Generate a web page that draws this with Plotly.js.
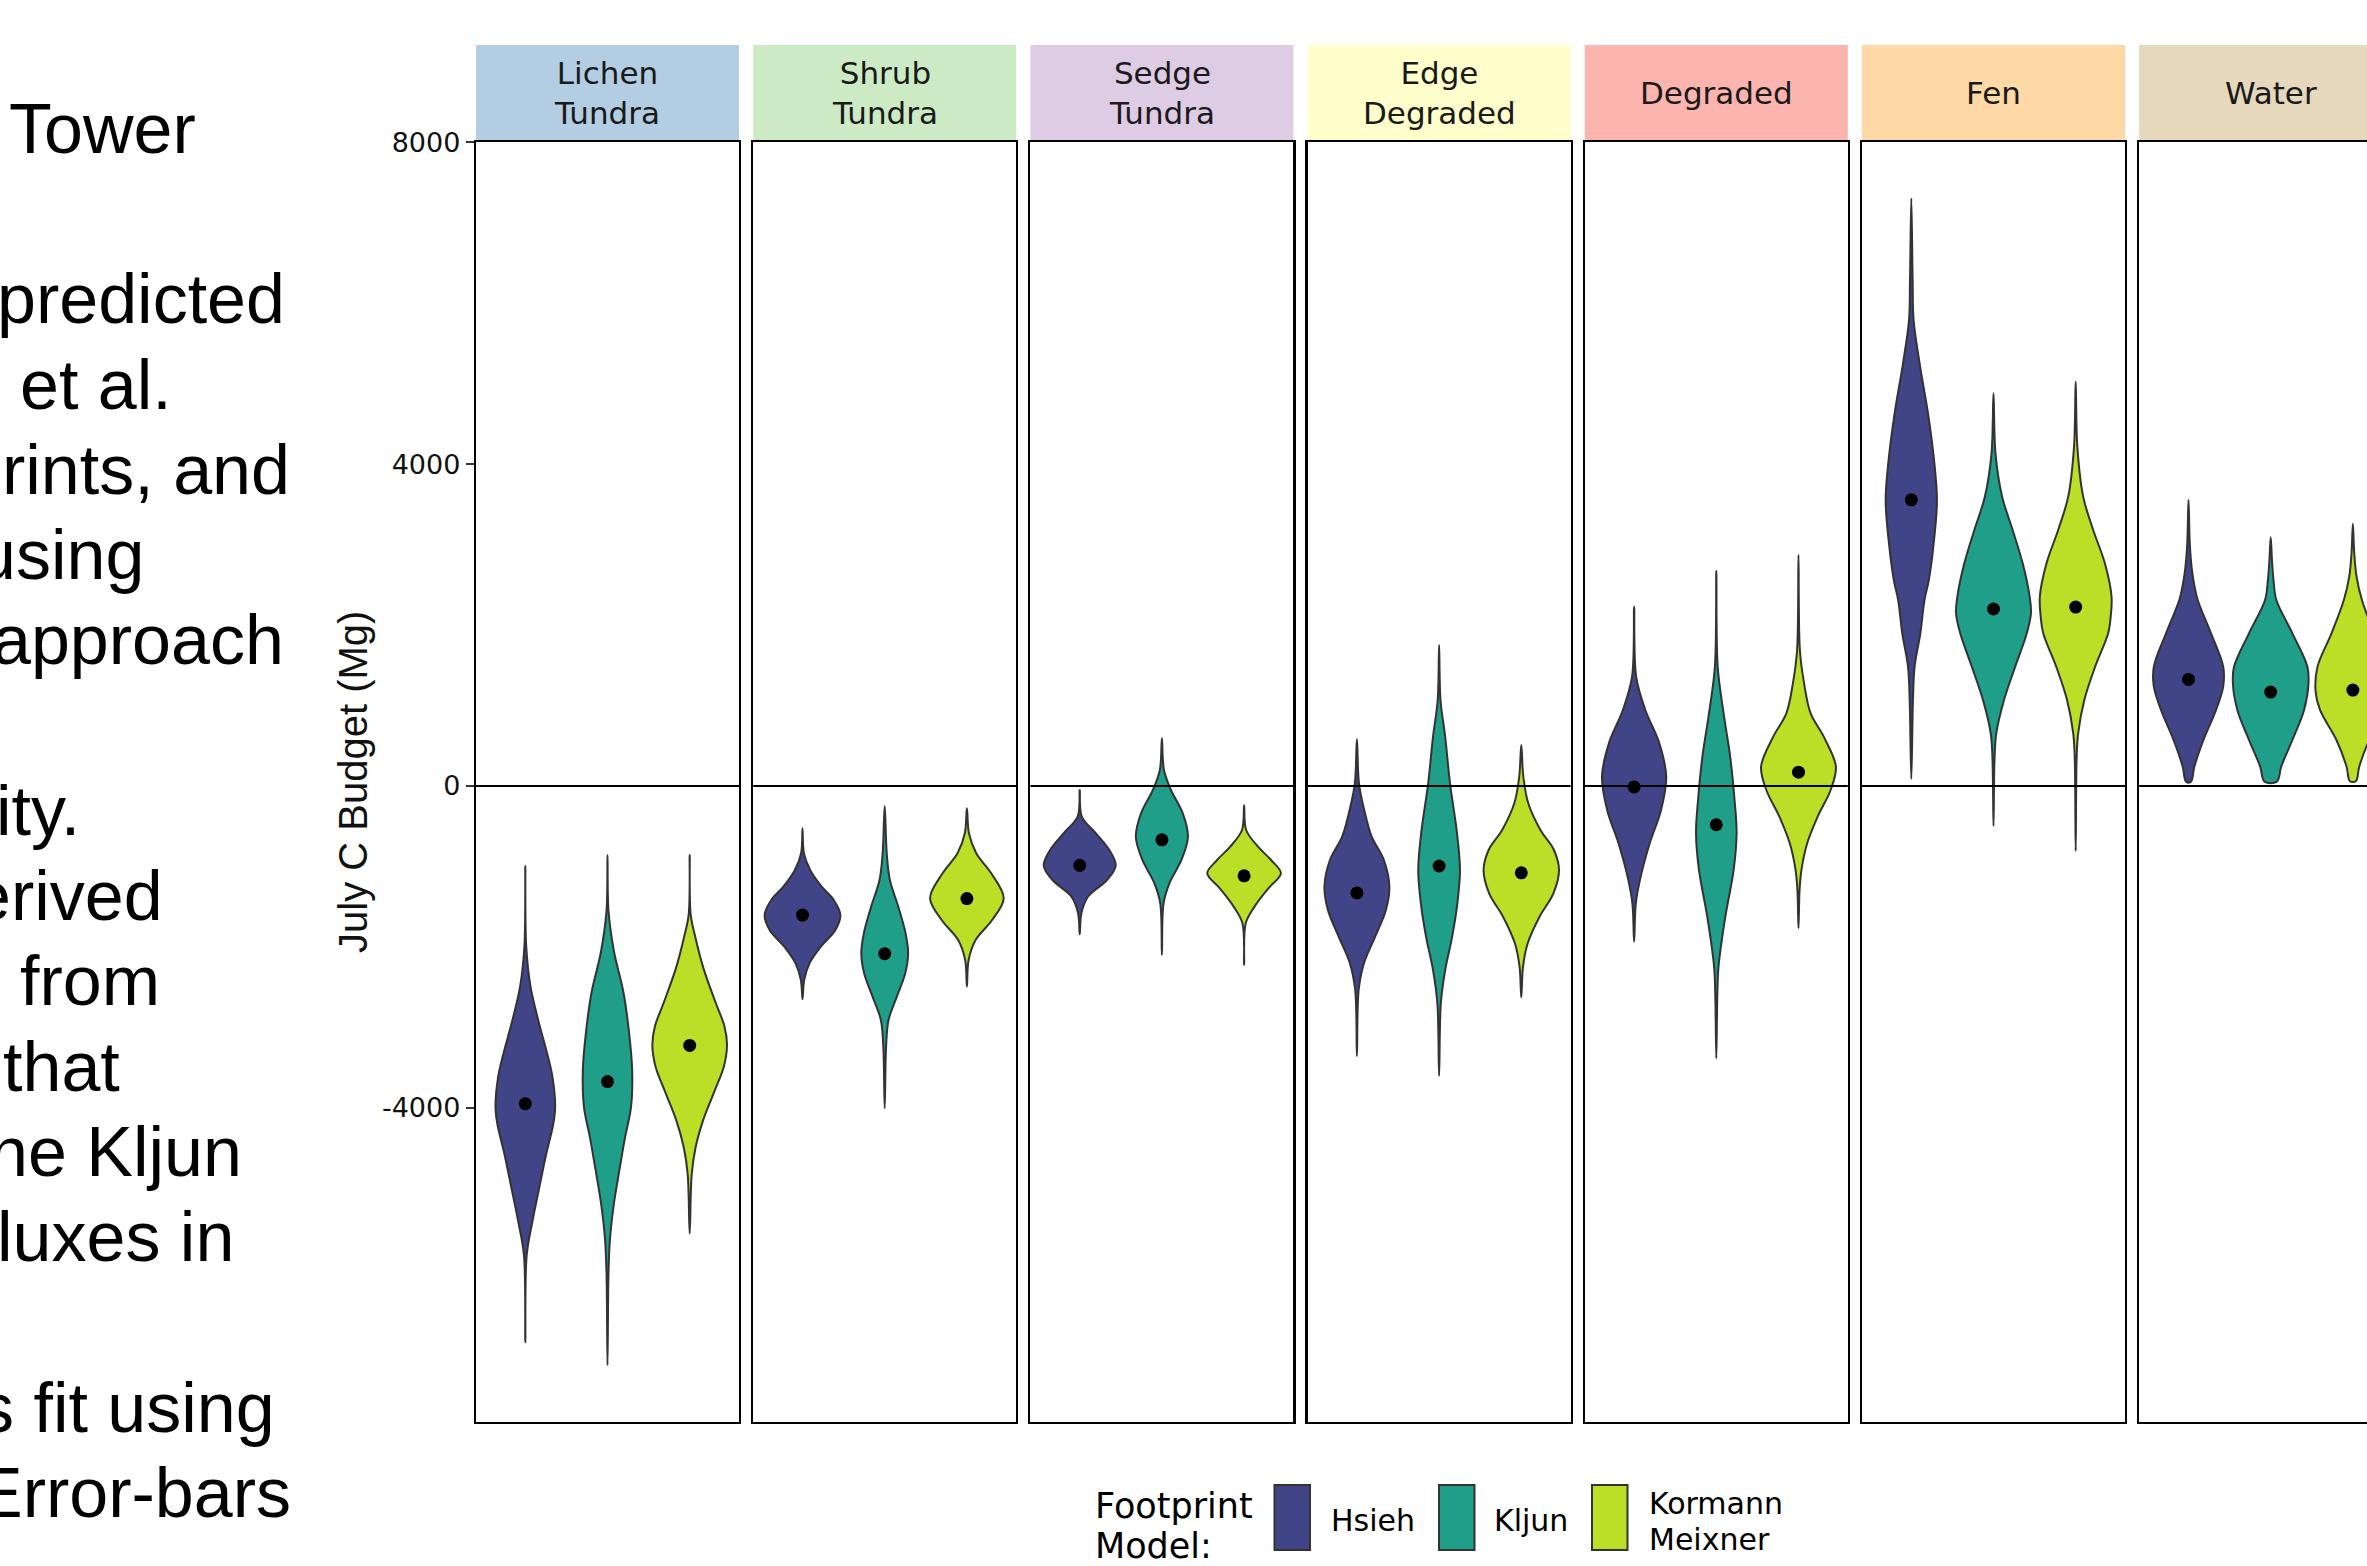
<!DOCTYPE html>
<html>
<head>
<meta charset="utf-8">
<script src="https://cdn.plot.ly/plotly-3.0.1.min.js"></script>
<style>
  html, body { margin: 0; padding: 0; background: #ffffff; }
  #chart { width: 2367px; height: 1566px; }
</style>
</head>
<body>
<div id="chart"></div>
<script>
// ---- Data -------------------------------------------------------------
const habitats = ['Lichen<br>Tundra', 'Shrub<br>Tundra', 'Sedge<br>Tundra', 'Edge<br>Degraded', 'Degraded', 'Fen', 'Water'];
const stripColors = ['#B3CDE3', '#CCEBC5', '#DECBE4', '#FFFFCC', '#FBB4AE', '#FED9A6', '#E5D8BD'];
const models = ['Hsieh', 'Kljun', 'Kormann<br>Meixner'];
const modelColors = ['#414487', '#1F9E89', '#BBDF27'];

// mean July C budget (Mg) per habitat
const meanHsieh   = [-3950, -1605, -987, -1330, -12, 3557, 1325];
const meanKljun   = [-3675, -2085, -670, -995, -482, 2200, 1168];
const meanKormann = [-3225, -1400, -1117, -1080, 172, 2224, 1192];

// violin outlines: budget levels (Mg, top to bottom) and density half-widths
// (in category units) for [Hsieh, Kljun, Kormann-Meixner]
const lichenLevels = [
  [-994, -1974, -2479, -2899, -3319, -3614, -3993, -4202, -4582, -5002, -5420, -5842, -6917],
  [-857, -1553, -2058, -2561, -3026, -3531, -3993, -4371, -4792, -5213, -5634, -6055, -7200],
  [-857, -1595, -1890, -2268, -2689, -2984, -3215, -3488, -3824, -4161, -4498, -4835, -5565]
];
const lichenWidths = [
  [0, 0.010, 0.061, 0.154, 0.264, 0.330, 0.363, 0.340, 0.253, 0.168, 0.085, 0.016, 0],
  [0, 0.012, 0.079, 0.193, 0.258, 0.300, 0.286, 0.213, 0.142, 0.075, 0.030, 0.012, 0],
  [0, 0.012, 0.071, 0.168, 0.314, 0.422, 0.454, 0.416, 0.290, 0.162, 0.071, 0.024, 0]
];
const shrubLevels = [
  [-526, -837, -1044, -1252, -1417, -1604, -1790, -1998, -2205, -2412, -2652],
  [-249, -837, -1169, -1500, -1832, -2080, -2329, -2619, -2909, -3241, -4007],
  [-278, -588, -837, -1086, -1396, -1666, -1915, -2163, -2495]
];
const shrubWidths = [
  [0, 0.017, 0.093, 0.233, 0.380, 0.461, 0.400, 0.222, 0.085, 0.020, 0],
  [0, 0.025, 0.063, 0.165, 0.254, 0.285, 0.250, 0.148, 0.047, 0.017, 0],
  [0, 0.025, 0.114, 0.296, 0.448, 0.307, 0.106, 0.021, 0]
];
const sedgeLevels = [
  [-50, -381, -588, -796, -991, -1169, -1376, -1583, -1844],
  [593, 199, -50, -340, -630, -920, -1210, -1459, -2101],
  [-240, -547, -754, -920, -1086, -1272, -1500, -1707, -2225]
];
const sedgeWidths = [
  [0, 0.025, 0.197, 0.360, 0.438, 0.332, 0.100, 0.020, 0],
  [0, 0.025, 0.110, 0.254, 0.317, 0.237, 0.091, 0.020, 0],
  [0, 0.025, 0.169, 0.328, 0.448, 0.296, 0.127, 0.020, 0]
];
const edgeLevels = [
  [584, 33, -298, -630, -920, -1252, -1542, -1873, -2205, -2536, -3357],
  [1753, 1069, 613, 33, -588, -1044, -1459, -1873, -2288, -2702, -3605],
  [510, 116, -215, -547, -796, -1044, -1334, -1625, -1956, -2246, -2627]
];
const edgeWidths = [
  [0, 0.025, 0.089, 0.180, 0.328, 0.395, 0.353, 0.222, 0.085, 0.021, 0],
  [0, 0.017, 0.074, 0.133, 0.218, 0.254, 0.222, 0.159, 0.074, 0.021, 0],
  [0, 0.025, 0.085, 0.233, 0.397, 0.459, 0.391, 0.222, 0.078, 0.021, 0]
];
const degradedLevels = [
  [2229, 1359, 945, 530, 116, -298, -713, -1127, -1459, -1935],
  [2677, 1484, 862, 365, -174, -588, -1044, -1625, -2246, -2577, -3386],
  [2872, 1691, 1276, 903, 613, 240, -50, -381, -713, -1044, -1293, -1769]
];
const degradedWidths = [
  [0, 0.025, 0.137, 0.307, 0.391, 0.328, 0.190, 0.080, 0.021, 0],
  [0, 0.017, 0.095, 0.169, 0.222, 0.247, 0.211, 0.110, 0.027, 0.013, 0],
  [0, 0.017, 0.068, 0.148, 0.307, 0.455, 0.391, 0.233, 0.106, 0.036, 0.013, 0]
];
const fenLevels = [
  [7306, 6291, 5793, 5255, 4633, 4094, 3556, 3017, 2561, 2312, 1898, 1484, 1069, 87],
  [4882, 4136, 3597, 3183, 2768, 2354, 2147, 1898, 1484, 1069, 655, 323, -497],
  [5027, 4219, 3597, 3183, 2768, 2354, 2105, 1898, 1484, 1069, 655, 364, -808]
];
const fenWidths = [
  [0, 0.016, 0.028, 0.101, 0.203, 0.272, 0.312, 0.272, 0.213, 0.160, 0.110, 0.040, 0.020, 0],
  [0, 0.024, 0.105, 0.233, 0.355, 0.440, 0.456, 0.405, 0.264, 0.128, 0.034, 0.012, 0],
  [0, 0.020, 0.091, 0.213, 0.355, 0.436, 0.426, 0.395, 0.237, 0.105, 0.030, 0.012, 0]
];
const waterLevels = [
  [3559, 3000, 2700, 2500, 2312, 1898, 1484, 1235, 945, 572, 240, 54],
  [3091, 2800, 2550, 2312, 1898, 1484, 1277, 945, 572, 240, 54],
  [3259, 2900, 2600, 2312, 1898, 1484, 1177, 945, 572, 240, 60]
];
const waterWidths = [
  [0, 0.016, 0.040, 0.070, 0.112, 0.274, 0.422, 0.422, 0.335, 0.182, 0.071, 0.030],
  [0, 0.016, 0.035, 0.069, 0.264, 0.446, 0.460, 0.406, 0.264, 0.128, 0.075],
  [0, 0.016, 0.045, 0.110, 0.260, 0.430, 0.454, 0.400, 0.200, 0.077, 0.036]
];

const yTickVals = [-4000, 0, 4000, 8000];
const yTickText = ['-4000', '0', '4000', '8000'];

// caption text running beside the figure (clipped at the left edge)
const captionLines = ['Tower', 'predicted', 'et al.', 'rints, and', 'using', 'approach',
  'ity.', 'erived', 'from', 'that', 'he Kljun', 'luxes in', 's fit using', 'Error-bars'];
const captionRow = [0, 2, 3, 4, 5, 6, 8, 9, 10, 11, 12, 13, 15, 16];
const captionRight = [198, 287, 174, 292, 146, 286, 82, 165, 162, 122, 244, 236, 277, 293];

// ---- Layout geometry ---------------------------------------------------
const W = 2367, H = 1566;
const px = v => v / W;
const py = v => 1 - v / H;
const panelW = 263, panelStep = 277.2, panelX0 = 476;
const plotTop = 142, plotBottom = 1422, stripTop = 45;
const yRange = [-7907, 8006];
const unitPx = panelW / 3.2;

const allLevels = [lichenLevels, shrubLevels, sedgeLevels, edgeLevels, degradedLevels, fenLevels, waterLevels];
const allWidths = [lichenWidths, shrubWidths, sedgeWidths, edgeWidths, degradedWidths, fenWidths, waterWidths];

const traces = [];
const layout = {
  width: W, height: H,
  margin: { l: 0, r: 0, t: 0, b: 0, pad: 0 },
  paper_bgcolor: '#ffffff',
  plot_bgcolor: '#ffffff',
  showlegend: false,
  shapes: [],
  annotations: []
};

const sansWide = 'DejaVu Sans';
const sans = 'Liberation Sans, Arial, sans-serif';

for (let p = 0; p < habitats.length; p++) {
  const sfx = p === 0 ? '' : String(p + 1);
  const xName = 'x' + sfx, yName = 'y' + sfx;
  const left = panelX0 + panelStep * p;
  const right = Math.min(left + panelW, W);
  const xMax = 0.4 + (right - left) / unitPx;

  layout['xaxis' + sfx] = {
    domain: [px(left), px(right)],
    range: [0.4, xMax],
    anchor: yName,
    showgrid: false, zeroline: false,
    showticklabels: false, ticks: '',
    showline: true, linecolor: '#000000', linewidth: 2.2, mirror: true,
    fixedrange: true
  };
  const yAx = {
    domain: [py(plotBottom), py(plotTop)],
    range: yRange,
    anchor: xName,
    showgrid: false, zeroline: false,
    showline: true, linecolor: '#000000', linewidth: 2.2,
    mirror: p < habitats.length - 1,
    fixedrange: true
  };
  if (p === 0) {
    Object.assign(yAx, {
      tickmode: 'array', tickvals: yTickVals, ticktext: yTickText,
      ticks: 'outside', ticklen: 8, tickwidth: 2, tickcolor: '#333333',
      tickfont: { family: sansWide, size: 27, color: '#111111' }
    });
  } else {
    Object.assign(yAx, { showticklabels: false, ticks: '' });
  }
  layout['yaxis' + sfx] = yAx;

  // violins
  for (let m = 0; m < models.length; m++) {
    const lv = allLevels[p][m], wd = allWidths[p][m], c = m + 1;
    const xs = [], ys = [];
    for (let k = 0; k < lv.length; k++) { xs.push(c + wd[k]); ys.push(lv[k]); }
    for (let k = lv.length - 1; k >= 0; k--) {
      if (wd[k] > 0) { xs.push(c - wd[k]); ys.push(lv[k]); }
    }
    xs.push(c); ys.push(lv[0]);
    traces.push({
      type: 'scatter', mode: 'lines', x: xs, y: ys,
      xaxis: xName, yaxis: yName,
      fill: 'toself', fillcolor: modelColors[m],
      line: { color: '#333333', width: 2, shape: 'spline', smoothing: 1 },
      hoverinfo: 'skip'
    });
  }

  // means
  traces.push({
    type: 'scatter', mode: 'markers',
    x: [1, 2, 3], y: [meanHsieh[p], meanKljun[p], meanKormann[p]],
    xaxis: xName, yaxis: yName,
    marker: { color: '#000000', size: 13 },
    hoverinfo: 'skip'
  });

  // zero reference line on top of the violins
  layout.shapes.push({
    type: 'line', layer: 'above',
    xref: xName + ' domain', x0: 0, x1: 1,
    yref: yName, y0: 0, y1: 0,
    line: { color: '#000000', width: 2 }
  });

  // facet strip
  layout.shapes.push({
    type: 'rect', layer: 'below',
    xref: 'paper', yref: 'paper',
    x0: px(left), x1: px(right), y0: py(plotTop), y1: py(stripTop),
    fillcolor: stripColors[p], line: { width: 0 }
  });
  layout.annotations.push({
    xref: 'paper', yref: 'paper',
    x: px(left + panelW / 2), y: py((stripTop + plotTop) / 2),
    xanchor: 'center', yanchor: 'middle',
    text: habitats[p], showarrow: false, align: 'center',
    font: { family: sansWide, size: 31, color: '#1a1a1a' }
  });
}

// y-axis title
layout.annotations.push({
  xref: 'paper', yref: 'paper',
  x: px(353), y: py((plotTop + plotBottom) / 2),
  xanchor: 'center', yanchor: 'middle', textangle: -90,
  text: 'July C Budget (Mg)', showarrow: false,
  font: { family: sans, size: 40, color: '#111111' }
});

// legend: title, keys and labels
const legendKeyX = [1274.5, 1439, 1592];
const legendLabelX = [1329, 1492, 1647];
layout.annotations.push(
  { xref: 'paper', yref: 'paper', x: px(1093), y: py(1506), xanchor: 'left', yanchor: 'middle',
    text: 'Footprint', showarrow: false, font: { family: sansWide, size: 35, color: '#000000' } },
  { xref: 'paper', yref: 'paper', x: px(1093), y: py(1546), xanchor: 'left', yanchor: 'middle',
    text: 'Model:', showarrow: false, font: { family: sansWide, size: 35, color: '#000000' } }
);
for (let m = 0; m < models.length; m++) {
  layout.shapes.push({
    type: 'rect', xref: 'paper', yref: 'paper',
    x0: px(legendKeyX[m]), x1: px(legendKeyX[m] + 35.5),
    y0: py(1550), y1: py(1485),
    fillcolor: modelColors[m], line: { color: '#333333', width: 2 }
  });
  const parts = models[m].split('<br>');
  const rowY = parts.length === 1 ? [1520] : [1503, 1539];
  parts.forEach((t, i) => {
    layout.annotations.push({
      xref: 'paper', yref: 'paper', x: px(legendLabelX[m]), y: py(rowY[i]),
      xanchor: 'left', yanchor: 'middle', text: t, showarrow: false,
      font: { family: sansWide, size: 30, color: '#000000' }
    });
  });
}

// caption text
const captionSize = 70, captionBase0 = 153, captionLead = 85.26;
captionLines.forEach((t, i) => {
  const baseline = captionBase0 + captionLead * captionRow[i];
  layout.annotations.push({
    xref: 'paper', yref: 'paper',
    x: px(captionRight[i]), y: py(baseline - 0.3465 * captionSize),
    xanchor: 'right', yanchor: 'middle',
    text: t, showarrow: false,
    font: { family: sans, size: captionSize, color: '#000000' }
  });
});

Plotly.newPlot('chart', traces, layout, { staticPlot: true, displayModeBar: false });
</script>
</body>
</html>
